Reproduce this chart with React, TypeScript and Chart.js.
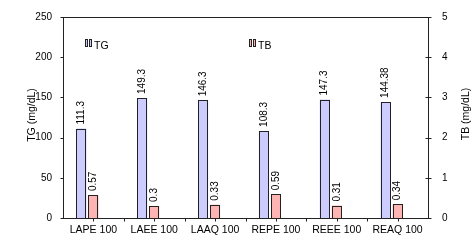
import { useEffect, useRef } from "react";
import { Chart, registerables } from "chart.js";

Chart.register(...registerables);

const categories = ["LAPE 100", "LAEE 100", "LAAQ 100", "REPE 100", "REEE 100", "REAQ 100"];
const tgValues = [111.3, 149.3, 146.3, 108.3, 147.3, 144.38];
const tbValues = [0.57, 0.3, 0.33, 0.59, 0.31, 0.34];
const tgLabels = ["111.3", "149.3", "146.3", "108.3", "147.3", "144.38"];
const tbLabels = ["0.57", "0.3", "0.33", "0.59", "0.31", "0.34"];
const tgTicks = [0, 50, 100, 150, 200, 250];
const tbTicks = [0, 1, 2, 3, 4, 5];
const emptyValues = [null, null, null, null, null, null];

const FONT = "'Liberation Sans', Arial, sans-serif";
const TG_FILL = "#ccccff";
const TB_FILL = "#ffb4b4";
const EDGE = "#222222";

const decorPlugin = {
  id: "decor",
  afterDatasetsDraw(chart: any) {
    const ctx: CanvasRenderingContext2D = chart.ctx;
    const { left, right, top, bottom } = chart.chartArea;
    const line = (x1: number, y1: number, x2: number, y2: number) => {
      ctx.beginPath();
      ctx.moveTo(x1, y1);
      ctx.lineTo(x2, y2);
      ctx.stroke();
    };
    ctx.save();
    ctx.strokeStyle = EDGE;
    ctx.lineWidth = 1;

    // crisp bar outlines
    [0, 1].forEach((di) => {
      const meta = chart.getDatasetMeta(di);
      meta.data.forEach((el: any) => {
        const x0 = Math.round(el.x - el.width / 2) + 0.5;
        const x1 = Math.round(el.x + el.width / 2) - 0.5;
        const y0 = Math.round(el.y) + 0.5;
        const y1 = Math.round(el.base) + 0.5;
        ctx.strokeRect(x0, y0, x1 - x0, y1 - y0);
      });
    });

    const L = Math.round(left) + 0.5;
    const R = Math.round(right) + 0.5;
    const T = Math.round(top) + 0.5;
    const B = Math.round(bottom) + 0.5;
    ctx.strokeRect(L, T, R - L, B - T);

    const y = chart.scales.y;
    tgTicks.forEach((v) => {
      const py = Math.round(y.getPixelForValue(v)) + 0.5;
      line(L - 3, py, L, py);
    });
    const y1 = chart.scales.y1;
    tbTicks.forEach((v) => {
      const py = Math.round(y1.getPixelForValue(v)) + 0.5;
      line(R - 3, py, R + 3, py);
    });
    const x = chart.scales.x;
    for (let i = 0; i < categories.length; i++) {
      const cx = Math.round(x.getPixelForValue(i)) + 0.5;
      line(cx, B, cx, B + 3);
    }
    for (let i = 1; i < categories.length; i++) {
      const bx = Math.round(x.getPixelForValue(i - 0.5)) + 0.5;
      line(bx, B, bx, B + 3);
    }

    // data labels
    ctx.fillStyle = "#000";
    ctx.font = `10px ${FONT}`;
    ctx.textAlign = "left";
    ctx.textBaseline = "middle";
    const labelSets = [tgLabels, tbLabels];
    [0, 1].forEach((di) => {
      const meta = chart.getDatasetMeta(di);
      meta.data.forEach((el: any, i: number) => {
        ctx.save();
        ctx.translate(el.x, el.y - 4);
        ctx.rotate(-Math.PI / 2);
        ctx.fillText(labelSets[di][i], 0, 0);
        ctx.restore();
      });
    });

    // legend
    const legendItem = (x0: number, fill: string, text: string) => {
      ctx.fillStyle = fill;
      ctx.fillRect(x0, 39, 3, 8);
      ctx.fillRect(x0 + 4, 39, 3, 8);
      ctx.strokeStyle = EDGE;
      ctx.strokeRect(x0 + 0.5, 39.5, 2, 7);
      ctx.strokeRect(x0 + 4.5, 39.5, 2, 7);
      ctx.fillStyle = "#000";
      ctx.font = `10.5px 'Liberation Sans Narrow', ${FONT}`;
      ctx.textAlign = "left";
      ctx.textBaseline = "alphabetic";
      ctx.fillText(text, x0 + 9, 49);
    };
    legendItem(85, TG_FILL, "TG");
    legendItem(249, TB_FILL, "TB");

    // axis titles
    ctx.fillStyle = "#000";
    ctx.font = `10.5px 'Liberation Sans Narrow', ${FONT}`;
    ctx.textAlign = "center";
    ctx.textBaseline = "middle";
    ctx.save();
    ctx.translate(32, 115);
    ctx.rotate(-Math.PI / 2);
    ctx.fillText("TG (mg/dL)", 0, 0);
    ctx.restore();
    ctx.save();
    ctx.translate(466, 114);
    ctx.rotate(-Math.PI / 2);
    ctx.fillText("TB (mg/dL)", 0, 0);
    ctx.restore();

    ctx.restore();
  },
};

export default function App() {
  const ref = useRef<HTMLCanvasElement | null>(null);
  useEffect(() => {
    if (!ref.current) return;
    const chart = new Chart(ref.current, {
      type: "bar",
      data: {
        labels: categories,
        datasets: [
          {
            label: "TG",
            data: tgValues,
            yAxisID: "y",
            backgroundColor: TG_FILL,
            borderWidth: 0,
          },
          {
            label: "TB",
            data: tbValues,
            yAxisID: "y1",
            backgroundColor: TB_FILL,
            borderWidth: 0,
          },
          {
            label: "",
            data: emptyValues as any,
            yAxisID: "y",
            backgroundColor: "rgba(0,0,0,0)",
            borderWidth: 0,
          },
        ],
      },
      options: {
        responsive: false,
        animation: false,
        events: [],
        layout: { padding: { top: 17, left: 0, right: 0, bottom: 0 } },
        datasets: {
          bar: { categoryPercentage: 0.592, barPercentage: 0.833 },
        },
        plugins: {
          legend: { display: false },
          tooltip: { enabled: false },
          title: { display: false },
        },
        scales: {
          x: {
            type: "category",
            offset: true,
            grid: { display: false },
            border: { display: false },
            ticks: {
              color: "#000",
              font: { family: FONT, size: 10.5 },
              padding: -2,
              maxRotation: 0,
              autoSkip: false,
            },
            afterFit(scale: any) {
              scale.height = 33;
            },
          },
          y: {
            position: "left",
            min: 0,
            max: 250,
            grid: { display: false },
            border: { display: false },
            ticks: {
              stepSize: 50,
              color: "#000",
              font: { family: FONT, size: 10 },
              padding: 3,
            },
            afterFit(scale: any) {
              scale.width = 63;
            },
          },
          y1: {
            position: "right",
            min: 0,
            max: 5,
            grid: { display: false },
            border: { display: false },
            ticks: {
              stepSize: 1,
              color: "#000",
              font: { family: FONT, size: 10 },
              padding: 6,
            },
            afterFit(scale: any) {
              scale.width = 48;
            },
          },
        },
      },
      plugins: [decorPlugin],
    });
    return () => chart.destroy();
  }, []);
  return (
    <div style={{ position: "fixed", left: 0, top: 0, width: 476, height: 251, background: "#fff" }}>
      <canvas ref={ref} width={476} height={251} style={{ display: "block" }} />
    </div>
  );
}
